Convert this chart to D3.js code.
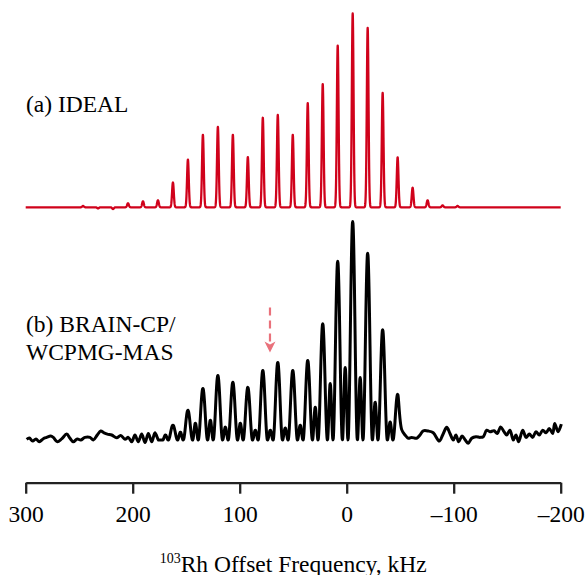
<!DOCTYPE html>
<html><head><meta charset="utf-8">
<script src="https://cdn.jsdelivr.net/npm/d3@7"></script>
<style>
html,body{margin:0;padding:0;background:#fff;}
svg{display:block;}
</style></head>
<body>
<svg id="chart" width="587" height="575"></svg>
<script>
// ---------------- data ----------------
const axisTicks = [300, 200, 100, 0, -100, -200];

// (a) simulated spectrum: spinning sideband positions (kHz) and relative intensities
const idealKHz = [246.4, 232.4, 218.4, 204.4, 190.4, 176.4, 162.4, 148.4, 134.4, 120.4, 106.4, 92.4, 78.4,
                  64.4, 50.4, 36.4, 22.4, 8.4, -5.6, -19.6, -33.6, -47.6, -61.6, -75.6, -89.6, -103.6];
const idealInt = [0.7, -0.6, -0.9, 2.1, 3.1, 3.6, 12.8, 24.6, 37.4, 41.5, 37.4, 25.9, 46.2,
                  47.7, 37.4, 53.8, 63.6, 83.4, 100, 92.6, 59.0, 25.8, 10.1, 3.6, 1.0, 0.7];

// (b) experimental spectrum: sideband spikelets and the intermediate spikelets
const expMainKHz = [162.4, 148.4, 134.4, 120.4, 106.4, 92.4, 78.4, 64.4, 50.4, 36.4, 22.4, 8.4, -5.6, -19.6, -33.6, -47.6];
const expMainInt = [6.8, 13.6, 23.6, 29.5, 26.4, 24.1, 31.8, 35.5, 31.8, 36.4, 53.2, 81.8, 100, 85.5, 50.5, 20.9];
const expSubKHz  = [169.4, 155.4, 141.4, 127.4, 113.4, 99.4, 85.4, 71.4, 57.4, 43.4, 29.4, 15.4, 1.4, -12.6, -26.6, -40.6];
const expSubInt  = [2.3, 3.6, 7.7, 9.1, 5.9, 7.7, 4.5, 4.5, 5.5, 6.8, 15, 25.9, 33.2, 28.6, 17.3, 8.2];

// (b) baseline trace (kHz, relative intensity), noise on both sides and the floor under the spikelets
const baseKHz = [299.1, 296.6, 293.5, 290.4, 287.3, 283.6, 280.4, 276.6, 274.2, 270.5, 266.4, 261.7, 258.6, 255.5,
                 251.8, 248.6, 244.6, 239.9, 236.8, 233.1, 229.9, 226.8, 223.7, 219.6, 215.0, 211.2, 207.2, 204.1,
                 200.9, 197.9, 194.8, 191.6, 188.5, 185.4, 182.2, 179.2, 176.1,
                 150, 100, 50, 0, -48,
                 -51.4, -54.5, -57.6, -60.7, -65.4, -68.5, -71.6, -76.3, -80.9, -86.5, -89.7, -93.5, -96.5, -99.6,
                 -102.1, -104.7, -107.8, -110.8, -113.6, -116.8, -120.8, -124.6, -127.7, -130.8, -133.9, -137.7,
                 -140.7, -143.9, -147.0, -149.5, -152.6, -155.7, -158.2, -160.7, -164.5, -167.6, -170.7, -173.8,
                 -176.9, -180.0, -183.2, -186.3, -189.3, -192.5, -194.4, -197.5, -200.6];
const baseInt = [0.3, 0.9, -0.5, 0.5, -0.8, 0.6, 1.2, 1.8, 1.2, -0.8, 0.5, 2.7, 0.8, -0.8,
                 0.5, 0.0, 1.2, 1.2, 0.0, 2.3, 4.1, 3.3, 2.7, 2.3, 1.0, 2.1, 0.3, 1.2,
                 -0.8, 2.3, -0.8, 2.7, -1.2, 3.0, -0.8, 3.3, 0.0,
                 0, 0, 0, 0, 0,
                 3.8, 2.3, 0.8, 1.2, 0.8, 2.3, 4.2, 4.1, 3.3, -0.5, 2.3, 5.8, 3.0, 0.0,
                 2.3, -0.8, 1.8, 0.0, -1.5, 0.8, 1.5, 1.2, 1.5, 4.5, 3.8, 4.2,
                 3.0, 6.0, 3.8, 2.3, 4.5, 0.0, 2.3, -0.8, 4.5, 1.2, 2.7, 1.2,
                 3.8, 2.3, 4.5, 3.3, 5.3, 3.0, 7.6, 3.8, 7.3];

// arrow marker on trace (b): position (kHz) and intensity span (start, tip)
const arrowKHz = 71.7;
const arrowSpan = [60.6, 40.0];

// ---------------- drawing ----------------
const svg = d3.select("#chart");
const serif = "'Liberation Serif','Times New Roman',Times,serif";

const x = d3.scaleLinear().domain([300, -200]).range([25.7, 560.7]);
const yTop = d3.scaleLinear().domain([0, 100]).range([207.3, 13.5]);
const yBot = d3.scaleLinear().domain([0, 100]).range([440, 221.5]);

// line shapes
const gauss = (k, c, h, s) => h * Math.exp(-((k - c) * (k - c)) / (2 * s * s));
const hann = (k, c, h, w) => {
  const d = Math.abs(k - c);
  return d >= w ? 0 : h * Math.pow(Math.cos(Math.PI * d / (2 * w)), 2);
};

// trace (a)
const topPts = d3.range(300, -200.01, -0.1).map(k => {
  let v = 0;
  idealKHz.forEach((c, i) => { v += gauss(k, c, idealInt[i], 0.8); });
  return [k, v];
});
svg.append("path")
  .attr("d", d3.line().x(d => x(d[0])).y(d => yTop(d[1]))(topPts))
  .attr("fill", "none").attr("stroke", "#d0021b").attr("stroke-width", 2.3)
  .attr("stroke-linejoin", "round");

// trace (b)
const floor = d3.scaleLinear().domain(baseKHz).range(baseInt).clamp(true);
const spikes = k => {
  let v = 0;
  expMainKHz.forEach((c, i) => { v += hann(k, c, expMainInt[i], 4.4); });
  expSubKHz.forEach((c, i) => { v += hann(k, c, expSubInt[i], 2.6); });
  return v;
};
const lo = -48, hi = 176.1;
const ks = baseKHz.filter(k => k > hi || k < lo)
  .concat(d3.range(hi, lo - 0.01, -0.25))
  .sort((a, b) => b - a);
const botPts = ks.map(k => [k, floor(k) + spikes(k)]);
svg.append("path")
  .attr("d", d3.line().curve(d3.curveCatmullRom).x(d => x(d[0])).y(d => yBot(d[1]))(botPts))
  .attr("fill", "none").attr("stroke", "#000").attr("stroke-width", 3)
  .attr("stroke-linejoin", "round");

// arrow
const ax = x(arrowKHz), ay0 = yBot(arrowSpan[0]), ay1 = yBot(arrowSpan[1]);
svg.append("line")
  .attr("x1", ax).attr("x2", ax).attr("y1", ay0).attr("y2", ay1 - 9)
  .attr("stroke", "#e9717b").attr("stroke-width", 2.2).attr("stroke-dasharray", "8,5");
svg.append("path")
  .attr("d", `M${ax - 5.5},${ay1 - 11} L${ax},${ay1 - 8} L${ax + 5.5},${ay1 - 11} L${ax},${ay1} Z`)
  .attr("fill", "#e9717b");

// axis
const axis = svg.append("g").attr("transform", "translate(0,482.7)")
  .call(d3.axisBottom(x).tickValues(axisTicks).tickSize(11).tickSizeOuter(0)
    .tickFormat(d => d < 0 ? "\u2013" + Math.abs(d) : String(d)));
axis.select(".domain").attr("stroke", "#222").attr("stroke-width", 2.3);
axis.selectAll(".tick line").attr("stroke", "#222").attr("stroke-width", 2.3);
axis.selectAll(".tick text")
  .attr("y", 39).attr("dy", null)
  .attr("fill", "#000").style("font-family", serif).style("font-size", "23.5px");

// axis title
const title = svg.append("text")
  .attr("x", x(50)).attr("y", 571.5).attr("text-anchor", "middle")
  .style("font-family", serif).style("font-size", "23.5px").attr("fill", "#000");
title.append("tspan").text("103").style("font-size", "14px").attr("dy", -9);
title.append("tspan").text("Rh Offset Frequency, kHz").attr("dy", 9);

// trace labels
const label = (txt, yy) => svg.append("text").attr("x", 26).attr("y", yy).text(txt)
  .style("font-family", serif).style("font-size", "23.5px").attr("fill", "#000");
label("(a) IDEAL", 112);
label("(b) BRAIN-CP/", 331.7);
label("WCPMG-MAS", 360);
</script>
</body></html>
